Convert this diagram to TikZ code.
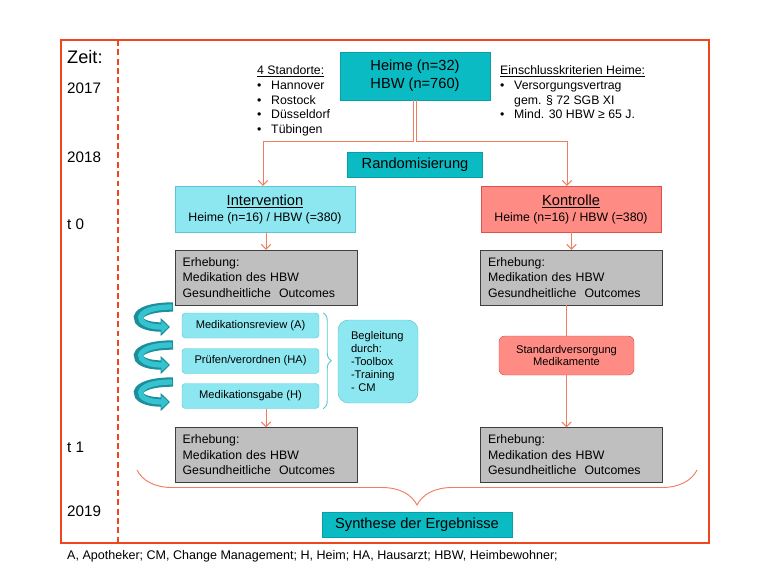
\documentclass[tikz,border=0pt]{standalone}
\usepackage{fontspec}
\setmainfont{Liberation Sans}
\usetikzlibrary{arrows.meta,decorations.pathreplacing,calc}
\definecolor{Frame}{HTML}{F0461E}
\definecolor{Wire}{HTML}{F27C60}
\definecolor{Teal}{HTML}{0BBBC4}
\definecolor{TealEdge}{HTML}{0A9EA6}
\definecolor{Aqua}{HTML}{8DE7F0}
\definecolor{AquaEdge}{HTML}{5BC6D3}
\definecolor{Salmon}{HTML}{FF8C84}
\definecolor{SalmonEdge}{HTML}{D9534A}
\definecolor{Stone}{HTML}{BFBFBF}
\definecolor{StoneEdge}{HTML}{3F3F3F}
\definecolor{Curl}{HTML}{1C8E9C}
\definecolor{CurlLight}{HTML}{34C3CF}

\newcommand{\bul}{\makebox[0.42cm][l]{\textbullet}}

\begin{document}
\begin{tikzpicture}[x=0.03cm,y=-0.03cm,every node/.style={text=black,inner sep=0pt},
conn/.style={draw=Wire,line width=0.8pt},tip/.style={-{Straight Barb[length=4pt,width=8pt]}},
tealbox/.style={draw=TealEdge,fill=Teal,font=\fontsize{12.5}{15.3}\selectfont,align=center},
grp/.style={draw=#1Edge,fill=#1,minimum width=5.4cm,minimum height=1.38cm,align=center,font=\fontsize{12.5}{13.6}\selectfont},
erh/.style={draw=StoneEdge,fill=Stone,minimum width=5.46cm,minimum height=1.65cm,text width=5cm,align=left,font=\fontsize{10.5}{13.2}\selectfont},
stepbox/.style={draw=AquaEdge,fill=Aqua,rounded corners=3pt,minimum width=4.11cm,minimum height=0.75cm,font=\fontsize{9.5}{11}\selectfont},
year/.style={anchor=west,font=\fontsize{13}{15}\selectfont},
list/.style={anchor=north west,align=left,font=\fontsize{10.5}{12.75}\selectfont}]
\useasboundingbox (0,0) rectangle (767,576);

\draw[Frame,line width=1.8pt] (61,40) rectangle (709,543);
\draw[Frame,line width=1.6pt,dash pattern=on 5pt off 3pt] (118,40)--(118,543);

\node[year,font=\fontsize{15.5}{17}\selectfont] (zeit) at (67,57) {Zeit:};
\node[year] (y17) at (67,88) {2017};\node[year] (y18) at (67,157) {2018};\node[year] (t0) at (67,224) {t 0};
\node[year] (t1) at (67,447) {t 1};\node[year] (y19) at (67,511) {2019};

\node[tealbox,minimum width=4.5cm,minimum height=1.44cm] (heime) at (415,76) {Heime (n=32)\\HBW (n=760)};
\node[list] (orte) at (257,65) {\underline{4 Standorte:}\\\bul Hannover\\\bul Rostock\\\bul Düsseldorf\\\bul Tübingen};
\node[list] (kriterien) at (500,65) {\underline{Einschlusskriterien Heime:}\\\bul Versorgungsvertrag\\\hspace*{0.42cm}gem. § 72 SGB XI\\\bul Mind. 30 HBW ≥ 65 J.};
\node[tealbox,minimum width=4.05cm,minimum height=0.75cm] (random) at (415,164.5) {Randomisierung};

\node[grp=Aqua] (interv) at (265,209) {\underline{Intervention}\\{\fontsize{10.5}{12}\selectfont Heime (n=16) / HBW (=380)}};
\node[grp=Salmon] (kontr) at (571,209) {\underline{Kontrolle}\\{\fontsize{10.5}{12}\selectfont Heime (n=16) / HBW (=380)}};
\draw[conn,tip] ([xshift=-0.05cm]heime.south)--++(0,41)-|([xshift=-0.06cm]interv.north);
\draw[conn,tip] ([xshift=0.04cm]heime.south)--++(0,41)-|([xshift=-0.12cm]kontr.north);

% Erhebungen t0 / t1
\node[erh] (erhIa) at (266,277.5) {Erhebung:\\Medikation des HBW\\Gesundheitliche~~Outcomes};
\node[erh] (erhKa) at (571.5,277.5) {Erhebung:\\Medikation des HBW\\Gesundheitliche~~Outcomes};
\node[erh] (erhIb) at (266,455) {Erhebung:\\Medikation des HBW\\Gesundheitliche~~Outcomes};
\node[erh] (erhKb) at (571.5,455) {Erhebung:\\Medikation des HBW\\Gesundheitliche~~Outcomes};
\draw[conn,tip] (interv.south-|erhIa.north)--(erhIa.north);
\draw[conn,tip] (kontr.south-|erhKa.north)--(erhKa.north);

\node[stepbox] (review) at (250.5,325.5) {Medikationsreview (A)};
\node[stepbox] (pruefen) at (250.5,361) {Prüfen/verordnen (HA)};
\node[stepbox] (gabe) at (250.5,396) {Medikationsgabe (H)};
\draw[AquaEdge,line width=0.8pt,decorate,decoration={brace,amplitude=0.24cm}] ($(review.north east)+(4,0)$)--($(gabe.south east)+(4,0)$);
\node[draw=AquaEdge,fill=Aqua,rounded corners=9pt,minimum width=2.4cm,minimum height=2.49cm,text width=1.62cm,align=left,font=\fontsize{9.5}{11.3}\selectfont] (begleit) at (378,361.5) {Begleitung\\durch:\\-Toolbox\\-Training\\- CM};
\draw[conn,tip] (gabe.south-|erhIb.north)--(erhIb.north);
\foreach \y in {302,340,377}{
\draw[Curl,line width=8pt,-{Triangle[length=8pt,width=15pt]}] (173,\y+5) .. controls (128,\y+5) and (130,\y+25) .. (170,\y+25);
\draw[CurlLight,line width=4.5pt,-{Triangle[length=6pt,width=10.5pt]}] (172,\y+5) .. controls (131,\y+5) and (133,\y+25) .. (168.5,\y+25);}

\node[draw=SalmonEdge,fill=Salmon,rounded corners=5pt,minimum width=4.05cm,minimum height=1.17cm,align=center,font=\fontsize{9.5}{10.5}\selectfont] (standard) at (566.5,355.5) {Standardversorgung\\Medikamente};
\draw[conn] (erhKa.south-|standard.north)--(standard.north);
\draw[conn,tip] (standard.south)--(standard.south|-erhKb.north);

\coordinate (braceL) at (137,470);\coordinate (braceR) at (697,470);
\draw[conn,decorate,decoration={brace,mirror,amplitude=1.05cm}] (braceL)--(braceR);
\node[tealbox,minimum width=5.7cm,minimum height=0.75cm] (synthese) at (417,524.5) {Synthese der Ergebnisse};

\node[anchor=west,font=\fontsize{10.7}{13}\selectfont] (legende) at (67,556) {A, Apotheker; CM, Change Management; H, Heim; HA, Hausarzt; HBW, Heimbewohner;};
\end{tikzpicture}
\end{document}
